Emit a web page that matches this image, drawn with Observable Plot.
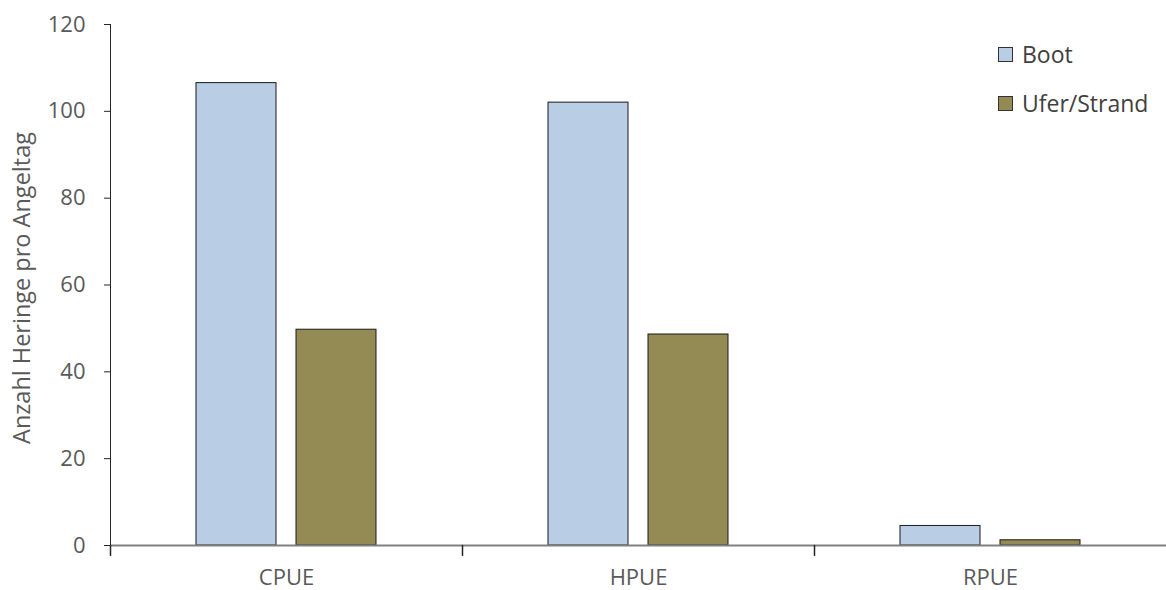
<!DOCTYPE html>
<html>
<head>
<meta charset="utf-8">
<script src="https://cdn.jsdelivr.net/npm/d3@7"></script>
<script src="https://cdn.jsdelivr.net/npm/@observablehq/plot@0.6"></script>
<style>
  html, body { margin: 0; padding: 0; background: #fff; }
  #wrap { position: relative; width: 1166px; height: 590px; overflow: hidden; font-family: "Open Sans", sans-serif; }
  #wrap svg g[aria-label="y-axis tick label"] text,
  #wrap svg g[aria-label="fx-axis tick label"] text { font-size: 22px; }
  #legend { position: absolute; left: 998px; top: 39px; }
  .item { display: flex; align-items: center; height: 30px; margin-bottom: 19px; font-size: 23px; color: #404040; }
  .sw { width: 13px; height: 13px; border: 1px solid #333; margin-right: 9px; box-sizing: content-box; flex: none; }
</style>
</head>
<body>
<div id="wrap"></div>
<script>
const categories = ["CPUE", "HPUE", "RPUE"];
const series = ["Boot", "Ufer/Strand"];
const bootValues = [106.5, 102.0, 4.5];
const uferValues = [49.7, 48.6, 1.2];
const colors = ["#b9cde5", "#948a54"];
const yTicks = [0, 20, 40, 60, 80, 100, 120];
const yLabel = "Anzahl Heringe pro Angeltag";

const data = [];
categories.forEach((c, i) => {
  data.push({cat: c, series: series[0], value: bootValues[i]});
  data.push({cat: c, series: series[1], value: uferValues[i]});
});

const lineShape = {
  draw(context, length) { context.moveTo(0, 0); context.lineTo(0, -length); }
};

const chart = Plot.plot({
  width: 1166,
  height: 590,
  marginLeft: 110,
  marginRight: 0,
  marginTop: 24,
  marginBottom: 45,
  style: {fontFamily: "'Open Sans', sans-serif", fontSize: "22px", background: "#fff", overflow: "visible"},
  fx: {domain: categories, padding: 0, label: null},
  x: {domain: series, paddingInner: 0.2, paddingOuter: 0.86, axis: null},
  y: {domain: [0, 120]},
  color: {domain: series, range: colors},
  marks: [
    Plot.barY(data, {fx: "cat", x: "series", y: "value", fill: "series", stroke: "#1a1a1a", strokeWidth: 1}),
    Plot.ruleY([0], {stroke: "#808080", strokeWidth: 2}),
    Plot.frame({anchor: "left", facet: "super", stroke: "#262626"}),
    Plot.vector(categories, {fx: d => d, frameAnchor: "bottom-left", anchor: "start", length: 10, rotate: 180, shape: lineShape, stroke: "#262626"}),
    Plot.axisY({ticks: yTicks, tickSize: 6, tickPadding: 19, stroke: "#262626", fill: "#595959", fontSize: 22, label: null}),
    Plot.text([yLabel], {facet: "super", frameAnchor: "left", textAnchor: "middle", lineAnchor: "middle", rotate: -90, dx: -88, dy: 3, fontSize: 23.5, fill: "#595959", text: d => d}),
    Plot.axisFx({anchor: "bottom", tickSize: 0, tickPadding: 24, label: null, fill: "#595959", fontSize: 22})
  ]
});

const wrap = document.getElementById("wrap");
wrap.appendChild(chart);

const colorScale = chart.scale("color");
const legend = document.createElement("div");
legend.id = "legend";
colorScale.domain.forEach((name, i) => {
  const item = document.createElement("div");
  item.className = "item";
  const sw = document.createElement("span");
  sw.className = "sw";
  sw.style.background = colorScale.range[i];
  const label = document.createElement("span");
  label.textContent = name;
  item.appendChild(sw);
  item.appendChild(label);
  legend.appendChild(item);
});
wrap.appendChild(legend);
</script>
</body>
</html>
